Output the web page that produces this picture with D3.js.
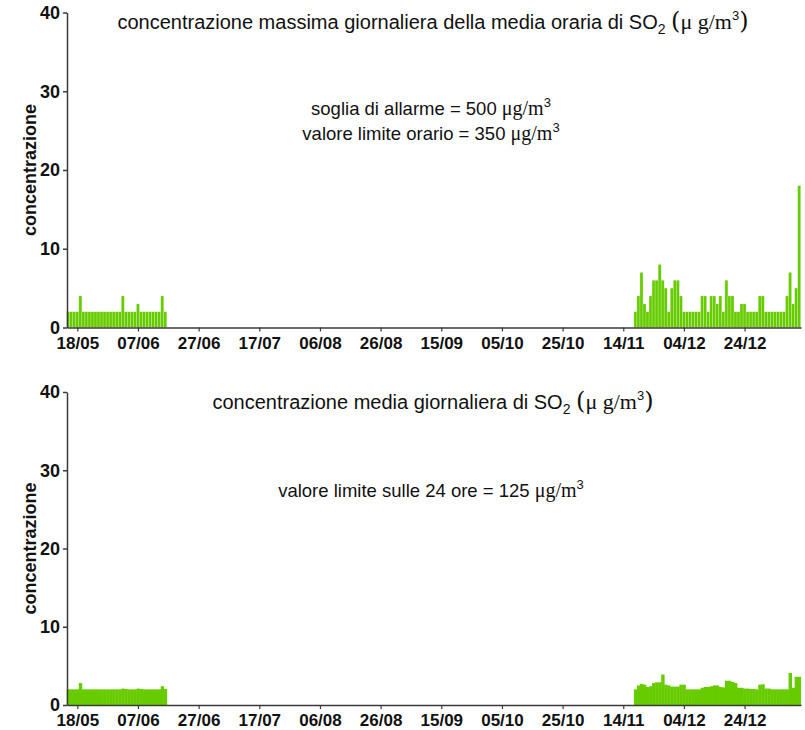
<!DOCTYPE html>
<html>
<head>
<meta charset="utf-8">
<script src="https://cdn.jsdelivr.net/npm/d3@7"></script>
<style>
  body { margin: 0; background: #fff; }
  svg { display: block; font-family: "Liberation Sans", Arial, sans-serif; }
</style>
</head>
<body>
<div id="chart"></div>
<script>
// daily values
const springStart = "2009-05-15";
const winterStart = "2009-11-18";

const maxSpring = [2,2,2,2,4,2,2,2,2,2,2,2,2,2,2,2,2,2,4,2,2,2,2,3,2,2,2,2,2,2,2,4,2];
const maxWinter = [2,4,7,3,2,4,6,6,8,6,5,2,5,6,6,4,2,2,2,2,2,2,4,4,2,4,4,3,4,2,6,4,4,2,2,3,3,2,2,2,2,4,4,2,2,2,2,2,2,2,4,7,3,5,18];

const meanSpring = [2.0,2.0,2.0,2.0,2.8,2.0,2.0,2.0,2.0,2.0,2.0,2.0,2.0,2.0,2.0,2.0,2.0,2.0,2.1,2.05,2.0,2.0,2.0,2.1,2.05,2.0,2.0,2.0,2.0,2.0,2.0,2.4,2.05];
const meanWinter = [2.0,2.5,2.7,2.6,2.3,2.4,2.8,2.9,2.9,3.9,2.6,2.5,2.35,2.35,2.35,2.6,2.6,2.0,2.0,2.0,2.0,2.0,2.2,2.3,2.3,2.4,2.5,2.5,2.3,2.25,3.1,3.1,2.95,2.8,2.2,2.2,2.1,2.1,2.05,2.05,2.0,2.6,2.65,2.1,2.1,2.0,2.0,2.0,2.0,2.0,2.0,4.1,2.2,3.6,3.6];

const tickLabels = ["18/05","07/06","27/06","17/07","06/08","26/08","15/09","05/10","25/10","14/11","04/12","24/12"];
const yTicks = [0, 10, 20, 30, 40];

const width = 805;
const height = 730;
const green = "#66cc00";
const axisColor = "#3a3a3a";
const DAY = 864e5;

const parseIso = d3.utcParse("%Y-%m-%d");
const parseTick = d3.utcParse("%d/%m/%Y");
const tickDates = tickLabels.map((s) => parseTick(s + "/2009"));
const ref = tickDates[0];

const x = d3.scaleUtc()
  .domain([new Date(+ref - 3.4 * DAY), new Date(+ref + 238.6 * DAY)])
  .range([67, 801]);
const bw = x(new Date(+ref + DAY)) - x(ref);

function toRows(startStr, values) {
  const s = parseIso(startStr);
  return values.map((v, i) => ({ date: d3.utcDay.offset(s, i), value: v }));
}

const panels = [
  {
    top: 12.5, bottom: 327.5,
    rows: toRows(springStart, maxSpring).concat(toRows(winterStart, maxWinter)),
    title: "concentrazione massima giornaliera della media oraria di SO",
    titleY: 29,
    notes: [
      { text: "soglia di allarme = 500 ", y: 115 },
      { text: "valore limite orario = 350 ", y: 140 }
    ],
    separators: true
  },
  {
    top: 392, bottom: 705,
    rows: toRows(springStart, meanSpring).concat(toRows(winterStart, meanWinter)),
    title: "concentrazione media giornaliera di SO",
    titleY: 409,
    notes: [
      { text: "valore limite sulle 24 ore = 125 ", y: 497 }
    ],
    separators: false
  }
];

const svg = d3.select("#chart").append("svg")
  .attr("width", width)
  .attr("height", height)
  .attr("viewBox", `0 0 ${width} ${height}`);

panels.forEach((p) => {
  const y = d3.scaleLinear().domain([0, 40]).range([p.bottom, p.top]);
  const g = svg.append("g");

  // bars
  g.append("g")
    .selectAll("rect")
    .data(p.rows)
    .join("rect")
    .attr("x", (d) => x(d.date) - bw / 2)
    .attr("width", p.separators ? bw : bw + 0.4)
    .attr("y", (d) => y(d.value))
    .attr("height", (d) => y(0) - y(d.value))
    .attr("fill", green)
    .attr("stroke", p.separators ? "rgba(255,255,255,0.35)" : "none")
    .attr("stroke-width", 0.6);

  // y axis
  const yAxis = g.append("g")
    .attr("transform", `translate(67,0)`)
    .call(d3.axisLeft(y).tickValues(yTicks).tickSize(4).tickPadding(3).tickSizeOuter(0));
  yAxis.select(".domain").attr("stroke", axisColor).attr("stroke-width", 1.5);
  yAxis.selectAll(".tick line").attr("stroke", axisColor).attr("stroke-width", 1.5);
  yAxis.selectAll(".tick text")
    .attr("fill", "#111")
    .style("font-size", "18px")
    .style("font-weight", "bold")
    .style("font-family", "'Liberation Sans', Arial, sans-serif");

  // x axis
  const xAxis = g.append("g")
    .attr("transform", `translate(0,${p.bottom})`)
    .call(d3.axisBottom(x).tickValues(tickDates).tickFormat(d3.utcFormat("%d/%m")).tickSize(4).tickPadding(5).tickSizeOuter(0));
  xAxis.select(".domain").attr("stroke", axisColor).attr("stroke-width", 1.5);
  xAxis.selectAll(".tick line").attr("stroke", axisColor).attr("stroke-width", 1.2);
  xAxis.selectAll(".tick text")
    .attr("fill", "#111")
    .style("font-size", "17px")
    .style("font-weight", "bold")
    .style("font-family", "'Liberation Sans', Arial, sans-serif");

  // y label
  g.append("text")
    .attr("transform", `translate(36,${(p.top + p.bottom) / 2}) rotate(-90)`)
    .attr("text-anchor", "middle")
    .style("font-size", "18px")
    .style("font-weight", "bold")
    .attr("fill", "#111")
    .text("concentrazione");

  // title
  const t = g.append("text")
    .attr("x", 433)
    .attr("y", p.titleY)
    .attr("text-anchor", "middle")
    .style("font-size", "20px")
    .attr("fill", "#111");
  t.append("tspan").text(p.title);
  t.append("tspan").attr("dy", 5).style("font-size", "14px").text("2");
  t.append("tspan").attr("dy", -5).text(" ");
  t.append("tspan").style("font-size", "24px").style("font-family", "'DejaVu Serif', serif").text("(");
  t.append("tspan").style("font-family", "'Liberation Serif', serif").style("font-size", "22px").text("\u03bc g/m");
  t.append("tspan").attr("dy", -9).style("font-size", "13px").text("3");
  t.append("tspan").attr("dy", 9).style("font-size", "24px").style("font-family", "'DejaVu Serif', serif").text(")");

  // notes
  p.notes.forEach((n) => {
    const nt = g.append("text")
      .attr("x", 431)
      .attr("y", n.y)
      .attr("text-anchor", "middle")
      .style("font-size", "18.5px")
      .attr("fill", "#111");
    nt.append("tspan").text(n.text);
    nt.append("tspan").style("font-family", "'Liberation Serif', serif").style("font-size", "20px").text("\u03bcg/m");
    nt.append("tspan").attr("dy", -8).style("font-size", "13px").text("3");
  });
});
</script>
</body>
</html>
